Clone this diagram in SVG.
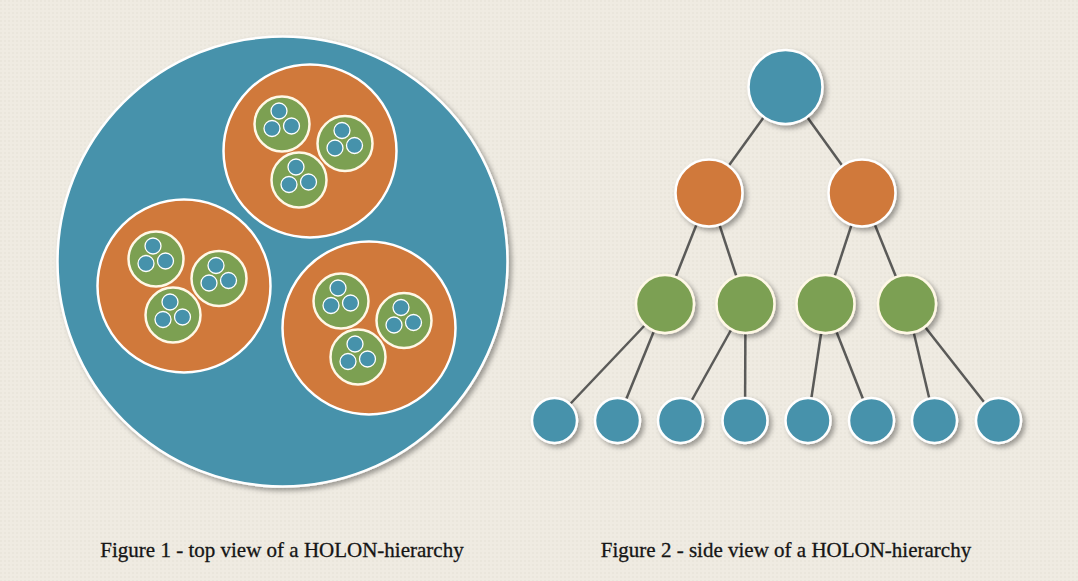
<svg xmlns="http://www.w3.org/2000/svg" width="1078" height="581" viewBox="0 0 1078 581">
<defs>
<style>
.blue{fill:#4692AB;stroke:#FFFFFF;stroke-width:2.5}
.orange{fill:#D0793B;stroke:#FFFFFF;stroke-width:2.5}
.green{fill:#7CA052;stroke:#FFF8E6;stroke-width:2.5}
.tiny{fill:#4692AB;stroke:#FFFFFF;stroke-width:1.3}
.edge{stroke:#5A5A58;stroke-width:2.5;fill:none}
.cap{font-family:"Liberation Serif",serif;font-size:21px;fill:#151515;stroke:#151515;stroke-width:0.3}
</style>
<filter id="sh" x="-20%" y="-20%" width="150%" height="150%">
<feDropShadow dx="3" dy="3" stdDeviation="2.5" flood-color="#000" flood-opacity="0.35"/>
</filter>
<pattern id="tex" width="4" height="4" patternUnits="userSpaceOnUse">
<rect width="4" height="4" fill="#EFEBE2"/>
<rect width="2" height="2" fill="#EAE6DC"/>
</pattern>
<g id="green-holon">
<circle class="green" r="27.5"/>
<circle class="tiny" cx="-3" cy="-13" r="8"/>
<circle class="tiny" cx="-10" cy="4.5" r="8"/>
<circle class="tiny" cx="9.5" cy="2" r="8"/>
</g>
<g id="orange-holon">
<circle class="orange" r="86.5"/>
<use href="#green-holon" x="-28" y="-27"/>
<use href="#green-holon" x="35" y="-7.5"/>
<use href="#green-holon" x="-11" y="29"/>
</g>
</defs>
<rect width="1078" height="581" fill="url(#tex)"/>

<g id="fig1">
<g id="outer-holon" filter="url(#sh)">
<circle class="blue" cx="282.5" cy="261.5" r="225"/>
</g>
<g id="holon-top"><use href="#orange-holon" x="310" y="151"/></g>
<g id="holon-left"><use href="#orange-holon" x="184" y="286"/></g>
<g id="holon-right"><use href="#orange-holon" x="369" y="328"/></g>
</g>

<g id="connectors">
<line class="edge" x1="785.5" y1="87" x2="709" y2="193"/>
<line class="edge" x1="785.5" y1="87" x2="862" y2="193"/>
<line class="edge" x1="709" y1="193" x2="665" y2="304"/>
<line class="edge" x1="709" y1="193" x2="745.5" y2="304"/>
<line class="edge" x1="862" y1="193" x2="825.5" y2="304"/>
<line class="edge" x1="862" y1="193" x2="907" y2="304"/>
<line class="edge" x1="665" y1="304" x2="554.5" y2="420.5"/>
<line class="edge" x1="665" y1="304" x2="617.5" y2="420.5"/>
<line class="edge" x1="745.5" y1="304" x2="680.5" y2="420.5"/>
<line class="edge" x1="745.5" y1="304" x2="745" y2="420.5"/>
<line class="edge" x1="825.5" y1="304" x2="808" y2="420.5"/>
<line class="edge" x1="825.5" y1="304" x2="871.5" y2="420.5"/>
<line class="edge" x1="907" y1="304" x2="934.5" y2="420.5"/>
<line class="edge" x1="907" y1="304" x2="998.5" y2="420.5"/>
</g>

<g id="tree-nodes" filter="url(#sh)">
<g id="n-root"><circle class="blue" cx="785.5" cy="87" r="37"/></g>
<g id="n-o1"><circle class="orange" cx="709" cy="193" r="33.5"/></g>
<g id="n-o2"><circle class="orange" cx="862" cy="193" r="33.5"/></g>
<g id="n-g1"><circle class="green" cx="665" cy="304" r="29"/></g>
<g id="n-g2"><circle class="green" cx="745.5" cy="304" r="29"/></g>
<g id="n-g3"><circle class="green" cx="825.5" cy="304" r="29"/></g>
<g id="n-g4"><circle class="green" cx="907" cy="304" r="29"/></g>
<g id="n-b1"><circle class="blue" cx="554.5" cy="420.5" r="22.5"/></g>
<g id="n-b2"><circle class="blue" cx="617.5" cy="420.5" r="22.5"/></g>
<g id="n-b3"><circle class="blue" cx="680.5" cy="420.5" r="22.5"/></g>
<g id="n-b4"><circle class="blue" cx="745" cy="420.5" r="22.5"/></g>
<g id="n-b5"><circle class="blue" cx="808" cy="420.5" r="22.5"/></g>
<g id="n-b6"><circle class="blue" cx="871.5" cy="420.5" r="22.5"/></g>
<g id="n-b7"><circle class="blue" cx="934.5" cy="420.5" r="22.5"/></g>
<g id="n-b8"><circle class="blue" cx="998.5" cy="420.5" r="22.5"/></g>
</g>

<g id="captions">
<text class="cap" x="282" y="557" text-anchor="middle">Figure 1 - top view of a HOLON-hierarchy</text>
<text class="cap" x="786" y="557" text-anchor="middle">Figure 2 - side view of a HOLON-hierarchy</text>
</g>
</svg>
